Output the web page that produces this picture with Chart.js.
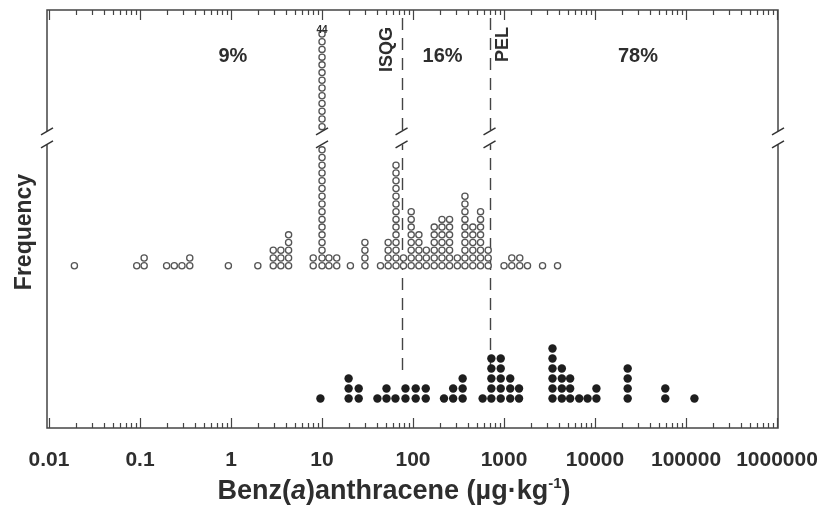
<!DOCTYPE html>
<html>
<head>
<meta charset="utf-8">
<script src="https://cdn.jsdelivr.net/npm/chart.js@4.4.0/dist/chart.umd.min.js"></script>
<style>
  html, body { margin: 0; background: #fff; }
</style>
</head>
<body>
<canvas id="dotChart" width="832" height="509"></canvas>
<script>
// ==================== DATA ====================
// open circles: bin value (ug/kg) and number of samples in the bin
const OPEN_X = [0.019, 0.092, 0.111, 0.196, 0.238, 0.289, 0.352, 0.935, 1.97, 2.91, 3.53, 4.29,
  8.0, 10, 11.9, 14.5, 20.5, 29.6, 43.9, 53.3, 65, 78.5, 95.5, 116, 140, 171, 208, 252, 307,
  372, 454, 552, 670, 1000, 1217, 1489, 1811, 2650, 3873];
const OPEN_N = [1, 1, 2, 1, 1, 1, 2, 1, 1, 3, 3, 5,
  2, 44, 2, 2, 1, 4, 1, 4, 14, 2, 8, 5, 3, 6, 7, 7, 2,
  10, 6, 8, 3, 1, 2, 2, 1, 1, 1];

// filled circles
const FILLED_X = [9.6, 19.6, 25.3, 40.6, 51.1, 64.1, 82.6, 107, 138, 219, 276, 351,
  582, 726, 920, 1170, 1462, 3410, 4318, 5330, 6700, 8280, 10360, 22850, 59200, 123700];
const FILLED_N = [1, 3, 2, 1, 2, 1, 2, 2, 2, 1, 2, 3,
  1, 5, 5, 3, 2, 6, 4, 3, 1, 1, 2, 4, 2, 1];

const TICK_VALUES = [0.01, 0.1, 1, 10, 100, 1000, 10000, 100000, 1000000];
const TICK_LABELS = ['0.01', '0.1', '1', '10', '100', '1000', '10000', '100000', '1000000'];

// sediment quality guidelines
const ISQG = 74.8;
const PEL = 693;

// share of samples per zone, and where the label sits on the x axis
const PCT_LABELS = ['9%', '16%', '78%'];
const PCT_AT = [1.05, 211, 29650];

// axis break on the open series: stack levels 16..30 are cut out
const BREAK_FROM = 16;
const BREAK_TO = 31;

const X_TITLE = ['Benz(', 'a', ')anthracene (\u00b5g\u00b7kg', '-1', ')'];
const Y_TITLE = 'Frequency';

// ==================== BUILD POINTS ====================
function stackOpen(xs, ns) {
  const pts = [];
  xs.forEach((x, i) => {
    for (let k = 0; k < ns[i]; k++) {
      if (k >= BREAK_FROM && k < BREAK_TO) continue;
      pts.push({ x, y: k >= BREAK_TO ? k - (BREAK_TO - BREAK_FROM) + 2 : k });
    }
  });
  return pts;
}

function stackFilled(xs, ns) {
  const pts = [];
  xs.forEach((x, i) => {
    for (let k = 0; k < ns[i]; k++) pts.push({ x, y: k });
  });
  return pts;
}

const FONT = '"Liberation Sans", Arial, sans-serif';
const INK = '#2e2e2e';

// ==================== DECORATION ====================
const decor = {
  id: 'decor',
  beforeDatasetsDraw(chart) {
    const { ctx, chartArea: a, scales: { x } } = chart;
    ctx.save();
    ctx.strokeStyle = '#444';
    ctx.lineWidth = 1.4;
    ctx.setLineDash([12, 8]);
    [ISQG, PEL].forEach(v => {
      const px = Math.round(x.getPixelForValue(v)) + 0.5;
      ctx.beginPath();
      ctx.moveTo(px, a.top + 8);
      ctx.lineTo(px, 377);
      ctx.stroke();
    });
    ctx.restore();
  },
  afterDatasetsDraw(chart) {
    const { ctx, chartArea: a, scales: { x, y } } = chart;
    ctx.save();
    ctx.strokeStyle = '#444';
    ctx.lineWidth = 1.5;
    ctx.strokeRect(a.left, a.top, a.right - a.left, a.bottom - a.top);

    // inward log ticks, top and bottom
    ctx.lineWidth = 1.2;
    for (let e = -2; e <= 6; e++) {
      for (let m = 1; m <= 9; m++) {
        const v = m * Math.pow(10, e);
        if (v < x.min || v > x.max) continue;
        const px = Math.round(x.getPixelForValue(v)) + 0.5;
        const len = m === 1 ? 10 : 5;
        ctx.beginPath();
        ctx.moveTo(px, a.top); ctx.lineTo(px, a.top + len);
        ctx.moveTo(px, a.bottom); ctx.lineTo(px, a.bottom - len);
        ctx.stroke();
      }
    }

    // axis breaks
    const yHi = y.getPixelForValue(BREAK_FROM + 1.4);
    const yLo = y.getPixelForValue(BREAK_FROM - 0.3);
    const breakXs = [a.left, a.right, x.getPixelForValue(ISQG), x.getPixelForValue(PEL), x.getPixelForValue(10)];
    breakXs.forEach(bx => {
      ctx.fillStyle = '#fff';
      ctx.fillRect(bx - 5, yHi, 10, yLo - yHi);
      ctx.strokeStyle = '#333';
      ctx.lineWidth = 1.5;
      [yHi, yLo].forEach(by => {
        ctx.beginPath();
        ctx.moveTo(bx - 6, by + 3.5);
        ctx.lineTo(bx + 6, by - 3.5);
        ctx.stroke();
      });
    });

    ctx.fillStyle = INK;
    // percentages
    ctx.font = 'bold 20px ' + FONT;
    ctx.textAlign = 'center';
    ctx.textBaseline = 'middle';
    PCT_LABELS.forEach((t, i) => ctx.fillText(t, x.getPixelForValue(PCT_AT[i]), 56));

    // count on the broken column
    const iTall = OPEN_N.indexOf(Math.max(...OPEN_N));
    ctx.font = 'bold 10px ' + FONT;
    ctx.textBaseline = 'alphabetic';
    ctx.fillText(String(OPEN_N[iTall]), x.getPixelForValue(OPEN_X[iTall]), 33);

    // guideline names
    ctx.font = 'bold 18px ' + FONT;
    ctx.textAlign = 'right';
    ctx.textBaseline = 'middle';
    [['ISQG', ISQG, -15], ['PEL', PEL, 13]].forEach(([t, v, dx]) => {
      ctx.save();
      ctx.translate(x.getPixelForValue(v) + dx, 27);
      ctx.rotate(-Math.PI / 2);
      ctx.fillText(t, 0, 0);
      ctx.restore();
    });

    // y title
    ctx.save();
    ctx.font = 'bold 23px ' + FONT;
    ctx.textAlign = 'center';
    ctx.translate(25, 232);
    ctx.rotate(-Math.PI / 2);
    ctx.fillText(Y_TITLE, 0, 0);
    ctx.restore();

    // x title with italic (a) and superscript
    const fonts = ['bold 27px ', 'italic bold 27px ', 'bold 27px ', 'bold 15px ', 'bold 27px '];
    const dy = [0, 0, 0, -11, 0];
    let w = 0;
    const widths = X_TITLE.map((t, i) => { ctx.font = fonts[i] + FONT; const m = ctx.measureText(t).width; w += m; return m; });
    let cx = 394 - w / 2;
    ctx.textAlign = 'left';
    ctx.textBaseline = 'alphabetic';
    X_TITLE.forEach((t, i) => {
      ctx.font = fonts[i] + FONT;
      ctx.fillText(t, cx, 499 + dy[i]);
      cx += widths[i];
    });
    ctx.restore();
  }
};

// ==================== CHART ====================
new Chart(document.getElementById('dotChart'), {
  type: 'scatter',
  data: {
    datasets: [
      {
        label: 'open',
        data: stackOpen(OPEN_X, OPEN_N),
        yAxisID: 'y',
        pointRadius: 3.1,
        pointBorderWidth: 1.3,
        pointBorderColor: '#555',
        pointBackgroundColor: '#fff'
      },
      {
        label: 'filled',
        data: stackFilled(FILLED_X, FILLED_N),
        yAxisID: 'y2',
        pointRadius: 4.2,
        pointBorderWidth: 0,
        pointBackgroundColor: '#1e1e1e'
      }
    ]
  },
  options: {
    responsive: false,
    animation: false,
    devicePixelRatio: 1,
    layout: { padding: { left: 47, right: 54, top: 10, bottom: 0 } },
    plugins: { legend: { display: false }, tooltip: { enabled: false } },
    scales: {
      x: {
        type: 'logarithmic',
        min: 0.0095,
        max: 1025000,
        grid: { display: false, drawTicks: false },
        border: { display: false },
        afterBuildTicks: s => { s.ticks = TICK_VALUES.map(v => ({ value: v })); },
        afterFit: s => { s.height = 81; s.paddingLeft = 0; s.paddingRight = 0; },
        ticks: {
          autoSkip: false,
          maxRotation: 0,
          padding: 20,
          color: INK,
          font: { family: FONT, size: 21, weight: 'bold' },
          callback: (v, i) => TICK_LABELS[i]
        }
      },
      y: { display: false, min: -21, max: 33.1 },
      y2: { display: false, min: -2.95, max: 38.85 }
    }
  },
  plugins: [decor]
});
</script>
</body>
</html>
